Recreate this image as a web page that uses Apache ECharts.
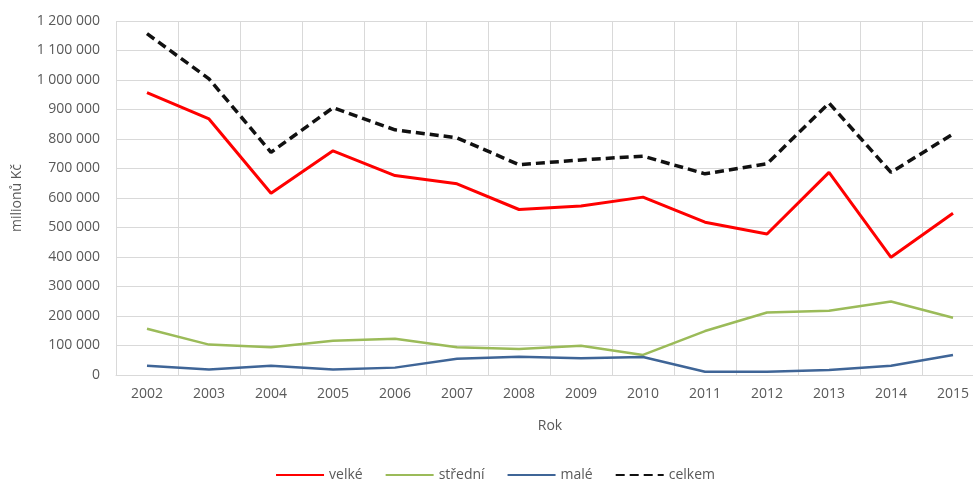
<!DOCTYPE html>
<html>
<head>
<meta charset="utf-8">
<script src="https://cdn.jsdelivr.net/npm/echarts@6/dist/echarts.min.js"></script>
<style>
  html, body { margin: 0; padding: 0; background: #fff; width: 973px; height: 481px; overflow: hidden; }
  /* the plot area runs slightly past the right edge of the visible page */
  #chart { width: 990px; height: 481px; }
</style>
</head>
<body>
<div id="chart"></div>
<script>
// Roky
const years = ['2002','2003','2004','2005','2006','2007','2008','2009','2010','2011','2012','2013','2014','2015'];

// Hodnoty v milionech Kč
const velke   = [957000, 868000, 616000, 760000, 676000, 648000, 561000, 573000, 603000, 518000, 478000, 687000, 399000, 548000];
const stredni = [157000, 103000, 94000, 116000, 123000, 94000, 88000, 99000, 68000, 149000, 212000, 218000, 249000, 194000];
const male    = [31000, 19000, 31000, 19000, 25000, 55000, 62000, 57000, 61000, 11000, 11000, 17000, 31000, 68000];
const celkem  = [1157000, 1004000, 755000, 906000, 831000, 804000, 713000, 729000, 742000, 682000, 716000, 922000, 687000, 817000];

const seriesNames = ['velké', 'střední', 'malé', 'celkem'];

const font = 'Open Sans';
const textColor = '#595959';

function spaced(v) {
  return String(v).replace(/\B(?=(\d{3})+(?!\d))/g, ' ');
}

const chart = echarts.init(document.getElementById('chart'), null, { renderer: 'canvas' });

function lineSeries(name, data, color, width, dashed) {
  return {
    name: name,
    type: 'line',
    data: data,
    symbol: 'none',
    smooth: false,
    lineStyle: { color: color, width: width, type: dashed ? [9, 5] : 'solid' },
    itemStyle: { color: color },
    z: dashed ? 4 : 3
  };
}

chart.setOption({
  animation: false,
  textStyle: { fontFamily: font, color: textColor },
  grid: { left: 116, top: 21, right: 6, bottom: 106, containLabel: false },
  xAxis: {
    type: 'category',
    data: years,
    boundaryGap: true,
    name: 'Rok',
    nameLocation: 'middle',
    nameGap: 44,
    nameTextStyle: { fontSize: 14, color: textColor, fontFamily: font },
    axisLine: { show: true, lineStyle: { color: '#d9d9d9', width: 1 } },
    axisTick: { show: false },
    axisLabel: { fontSize: 14, color: textColor, margin: 12, fontFamily: font },
    splitLine: { show: true, lineStyle: { color: '#d9d9d9', width: 1 } }
  },
  yAxis: {
    type: 'value',
    min: 0,
    max: 1200000,
    interval: 100000,
    name: 'milionů Kč',
    nameLocation: 'middle',
    nameGap: 92,
    nameRotate: 90,
    nameTextStyle: { fontSize: 14, color: textColor, fontFamily: font },
    axisLine: { show: false },
    axisTick: { show: false },
    axisLabel: { fontSize: 14, color: textColor, margin: 16, fontFamily: font, formatter: spaced },
    splitLine: { show: true, lineStyle: { color: '#d9d9d9', width: 1 } }
  },
  legend: {
    data: seriesNames,
    top: 463,
    left: 'center',
    itemWidth: 48,
    itemHeight: 14,
    itemGap: 22,
    itemStyle: { opacity: 0 },
    textStyle: { fontSize: 14, color: textColor, fontFamily: font }
  },
  series: [
    lineSeries(seriesNames[0], velke, '#ff0000', 3, false),
    lineSeries(seriesNames[1], stredni, '#9bbb59', 2.5, false),
    lineSeries(seriesNames[2], male, '#3f6597', 2.5, false),
    lineSeries(seriesNames[3], celkem, '#111111', 3.5, true)
  ]
});
</script>
</body>
</html>
